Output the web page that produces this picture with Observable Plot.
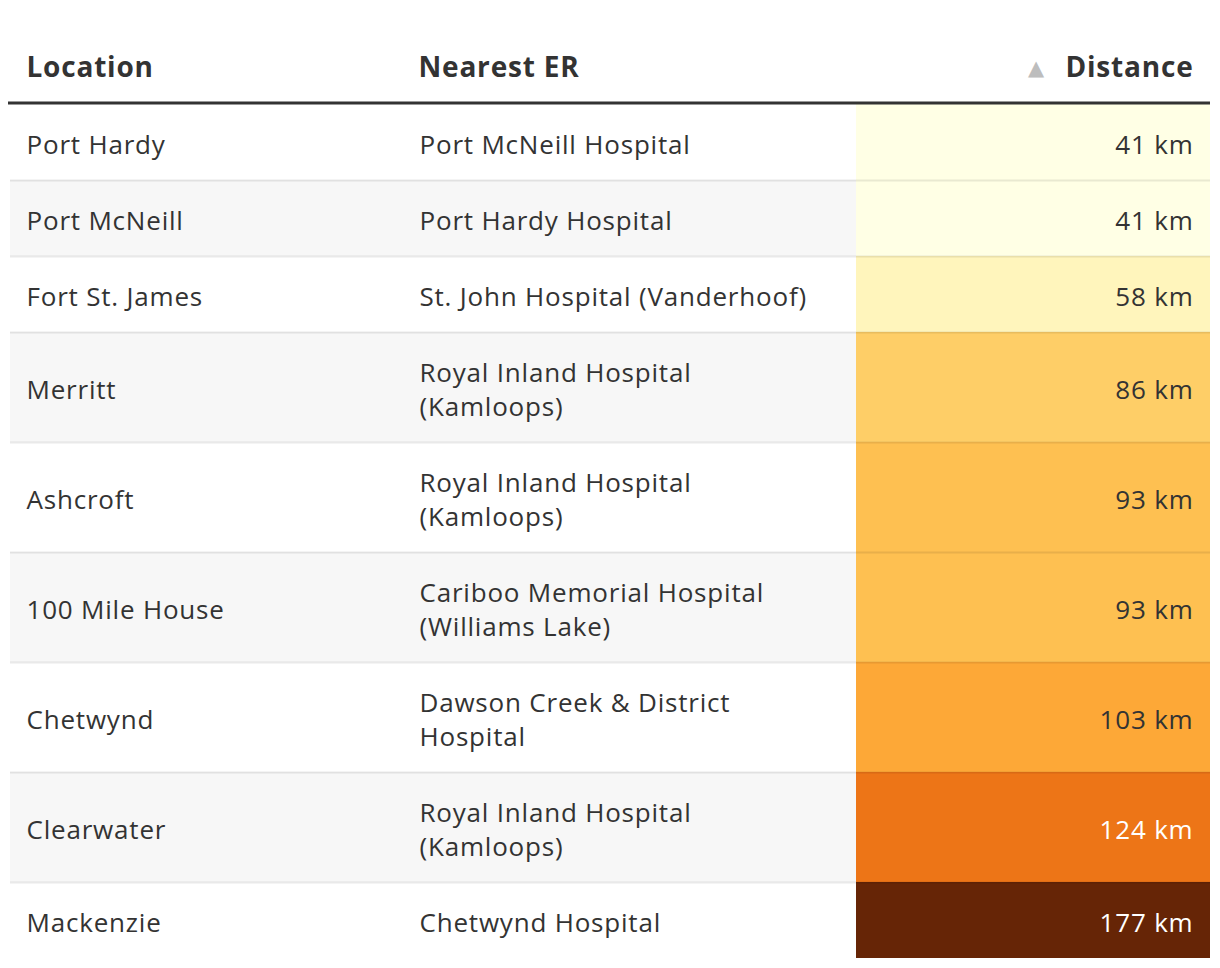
<!DOCTYPE html>
<html><head><meta charset="utf-8">
<script src="https://cdn.jsdelivr.net/npm/d3@7"></script>
<script src="https://cdn.jsdelivr.net/npm/@observablehq/plot@0.6"></script>
<style>
body{margin:0;background:#fff}
#chart svg{display:block;background:#fff}
#chart text{letter-spacing:0.8px}
</style>
</head><body><div id="chart"></div>
<script>
// ---- data ----
const headers = ["Location", "Nearest ER", "Distance"];
const locations = ["Port Hardy", "Port McNeill", "Fort St. James", "Merritt", "Ashcroft", "100 Mile House", "Chetwynd", "Clearwater", "Mackenzie"];
const nearestER = ["Port McNeill Hospital", "Port Hardy Hospital", "St. John Hospital (Vanderhoof)", "Royal Inland Hospital (Kamloops)", "Royal Inland Hospital (Kamloops)", "Cariboo Memorial Hospital (Williams Lake)", "Dawson Creek & District Hospital", "Royal Inland Hospital (Kamloops)", "Chetwynd Hospital"];
const distanceKm = [41, 41, 58, 86, 93, 93, 103, 124, 177];
const unit = "km";

// ---- layout ----
const W = 1220, H = 968;
const FONT = "'Open Sans', sans-serif";
const bodySize = 26, headSize = 28, spacing = 0.8;
const col = {left: 10, er: 404, dist: 856, right: 1210};
const pad = 17;
const lineH = 34, rowBase = 42;
const top0 = 104;
const textColor = "#333";

const ctx = document.createElement("canvas").getContext("2d");
function measure(t, size, weight = 400) {
  ctx.font = `${weight} ${size}px ${FONT}`;
  return ctx.measureText(t).width + spacing * t.length;
}
function wrap(t, maxW) {
  const words = t.split(" ");
  const lines = [];
  let cur = "";
  for (const w of words) {
    const test = cur ? cur + " " + w : w;
    if (cur && measure(test, bodySize) > maxW) { lines.push(cur); cur = w; }
    else cur = test;
  }
  lines.push(cur);
  return lines;
}
const erMax = col.dist - col.er - pad - 30;

let acc = 0;
const rows = locations.map((loc, i) => {
  const lines = wrap(nearestER[i], erMax);
  const h = rowBase + lineH * lines.length;
  const r = {i, location: loc, er: lines.join("\n"), nLines: lines.length, distance: distanceKm[i],
             label: `${distanceKm[i]} ${unit}`, y0: acc, y1: acc + h, mid: acc + h / 2};
  acc += h;
  return r;
});
const total = acc;

const colorDomain = d3.extent(distanceKm);
const interp = d3.interpolateYlOrBr;
const cellColor = v => interp((v - colorDomain[0]) / (colorDomain[1] - colorDomain[0]));
const isDark = v => d3.lab(cellColor(v)).l < 68;

const headY = -36;
const triX = col.right - pad - measure(headers[2], headSize, 700) - 29;

const chart = Plot.plot({
  width: W, height: H,
  marginTop: 0, marginRight: 0, marginBottom: 0, marginLeft: 0,
  x: {type: "linear", domain: [0, W], range: [0, W], axis: null},
  y: {type: "linear", domain: [0, total], range: [top0, top0 + total], axis: null},
  color: {type: "linear", scheme: "YlOrBr", domain: colorDomain},
  style: {fontFamily: FONT, background: "#fff"},
  marks: [
    Plot.rect(rows.filter(d => d.i % 2 === 1), {x1: col.left, x2: col.right, y1: "y0", y2: "y1", fill: "#f7f7f7"}),
    Plot.rect(rows, {x1: col.dist, x2: col.right, y1: "y0", y2: "y1", fill: "distance"}),
    Plot.ruleY(rows.slice(1), {y: "y0", x1: col.left, x2: col.right, stroke: "#000", strokeOpacity: 0.085, strokeWidth: 2}),
    Plot.ruleY([0], {x1: col.left - 2, x2: col.right, stroke: textColor, strokeWidth: 3, dy: -1.5}),
    Plot.text([headers[0]], {x: col.left + pad - 1, y: headY, text: d => d, textAnchor: "start", fontSize: headSize, fontWeight: 700, fill: textColor}),
    Plot.text([headers[1]], {x: col.er + pad - 3, y: headY, text: d => d, textAnchor: "start", fontSize: headSize, fontWeight: 700, fill: textColor}),
    Plot.text([headers[2]], {x: col.right - pad, y: headY, text: d => d, textAnchor: "end", fontSize: headSize, fontWeight: 700, fill: textColor}),
    Plot.text([headers[2]], {x: triX, y: headY, text: () => "▲", fontSize: 21, fill: "#bdbdbd", fontFamily: "DejaVu Sans"}),
    Plot.text(rows, {x: col.left + pad - 1, y: "mid", text: "location", textAnchor: "start", fontSize: bodySize, fill: textColor, dy: 3}),
    Plot.text(rows.filter(d => d.nLines === 1), {x: col.er + pad - 2, y: "mid", text: "er", textAnchor: "start", fontSize: bodySize, fill: textColor, dy: 3}),
    Plot.text(rows.filter(d => d.nLines > 1), {x: col.er + pad - 2, y: "mid", text: "er", textAnchor: "start", fontSize: bodySize, fill: textColor, lineHeight: lineH / bodySize, dy: 1}),
    Plot.text(rows.filter(d => !isDark(d.distance)), {x: col.right - pad, y: "mid", text: "label", textAnchor: "end", fontSize: bodySize, fill: textColor, dy: 3}),
    Plot.text(rows.filter(d => isDark(d.distance)), {x: col.right - pad, y: "mid", text: "label", textAnchor: "end", fontSize: bodySize, fill: "#fff", dy: 3})
  ]
});
document.getElementById("chart").append(chart);
</script>
</body></html>
